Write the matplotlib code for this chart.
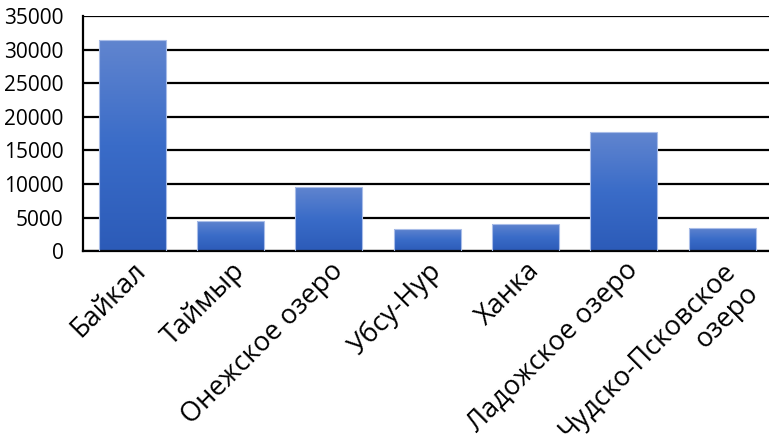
import numpy as np
import matplotlib.pyplot as plt
from matplotlib.colors import LinearSegmentedColormap

lakes = ['Байкал', 'Таймыр', 'Онежское озеро', 'Убсу-Нур', 'Ханка',
         'Ладожское озеро', 'Чудско-Псковское\nозеро']
area = [31500, 4560, 9600, 3350, 4100, 17700, 3500]

plt.rcParams['font.family'] = ['Open Sans', 'DejaVu Sans']

fig = plt.figure(figsize=(7.69, 4.36), dpi=100)
ax = fig.add_axes([0.108, 0.424, 0.895, 0.539])

x = np.arange(len(lakes))
bars = ax.bar(x, area, width=0.68, color='none', edgecolor='#a9bde8',
              linewidth=0.8, zorder=3)

# vertical gradient inside each bar, light on top
cmap = LinearSegmentedColormap.from_list('grad', ['#2c5bb8', '#3a6cc8', '#6185cf'])
grad = np.linspace(0, 1, 256).reshape(-1, 1)
for b in bars:
    x0, y0 = b.get_x(), b.get_y()
    w, h = b.get_width(), b.get_height()
    im = ax.imshow(grad, cmap=cmap, origin='lower', aspect='auto',
                   extent=(x0, x0 + w, y0, y0 + h), zorder=2)
    im.set_clip_path(b)

ax.set_xlim(-0.5, len(lakes) - 0.5)
ax.set_ylim(0, 35000)
ax.set_yticks(range(0, 35001, 5000))
ax.yaxis.grid(True, color='black', linewidth=1.6, zorder=1)
ax.set_axisbelow(True)

for s in ['top', 'right']:
    ax.spines[s].set_visible(False)
ax.spines['left'].set_linewidth(1.6)
ax.spines['bottom'].set_linewidth(1.6)

ax.tick_params(axis='y', length=0, labelsize=15, pad=14)
ax.tick_params(axis='x', length=0, labelsize=19.5, pad=4)
ax.set_xticks(x)
ax.set_xticklabels(lakes, rotation=45, ha='right', rotation_mode='anchor',
                   multialignment='right')

plt.savefig('out.png', dpi=100)
